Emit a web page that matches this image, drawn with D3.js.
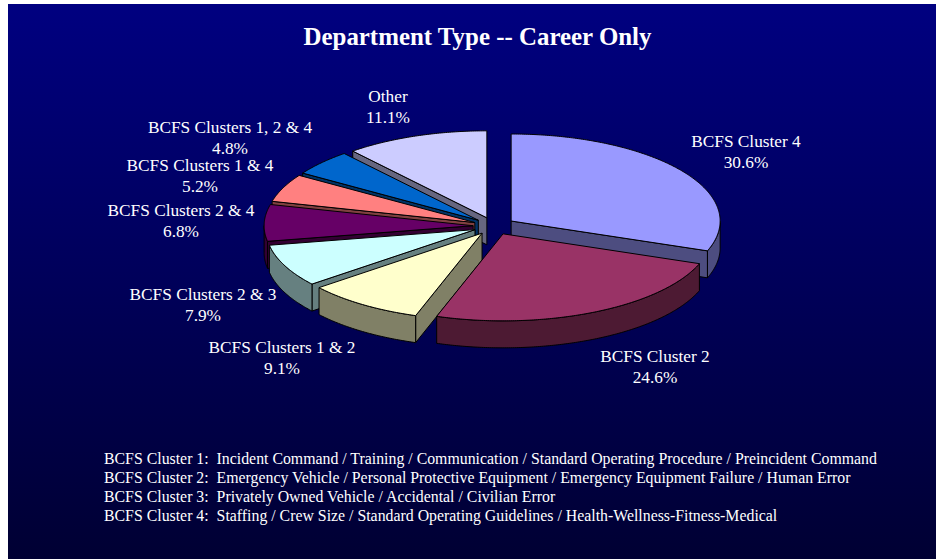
<!DOCTYPE html>
<html><head><meta charset="utf-8">
<script src="https://cdn.jsdelivr.net/npm/d3@7"></script>
<style>html,body{margin:0;padding:0;background:#fff}svg{display:block}text{font-family:"Liberation Serif","Times New Roman",serif;fill:#fff}</style>
</head><body><div id="c"></div>
<script>
const title = "Department Type -- Career Only";
const categories = ["BCFS Cluster 4","BCFS Cluster 2","BCFS Clusters 1 & 2","BCFS Clusters 2 & 3","BCFS Clusters 2 & 4","BCFS Clusters 1 & 4","BCFS Clusters 1, 2 & 4","Other"];
const values = [30.6,24.6,9.1,7.9,6.8,5.2,4.8,11.1];
const topColors = ["#9999FF","#993366","#FFFFCC","#CCFFFF","#660066","#FF8080","#0066CC","#CCCCFF"];
const sideColors = ["#4D4D80","#4D1A33","#808066","#668080","#330033","#804040","#003366","#666680"];
const labelCenters = [[746,151.5],[655,366.5],[282,357.5],[203,304.5],[181,220.5],[200,175.5],[230,137.5],[388,106.5]];
const notes = [
 "BCFS Cluster 1:  Incident Command / Training / Communication / Standard Operating Procedure / Preincident Command",
 "BCFS Cluster 2:  Emergency Vehicle / Personal Protective Equipment / Emergency Equipment Failure / Human Error",
 "BCFS Cluster 3:  Privately Owned Vehicle / Accidental / Civilian Error",
 "BCFS Cluster 4:  Staffing / Crew Size / Standard Operating Guidelines / Health-Wellness-Fitness-Medical"];

const W=937,H=559,cx=494,cy=226,rx=209,ry=87,depth=27,explode=0.1;
const svg=d3.select("#c").append("svg").attr("width",W).attr("height",H);
const grad=svg.append("defs").append("linearGradient").attr("id","bg").attr("x1",0).attr("y1",0).attr("x2",0).attr("y2",1);
grad.append("stop").attr("offset",0).attr("stop-color","#000080");
grad.append("stop").attr("offset",1).attr("stop-color","#000033");
svg.append("rect").attr("x",8).attr("y",4).attr("width",928).attr("height",555).attr("fill","url(#bg)");

svg.append("text").attr("x",477.5).attr("y",44.5).attr("text-anchor","middle").attr("font-size",24.9).attr("font-weight","bold").text(title);

const arcs=d3.pie().sort(null).value(d=>d)(values);
const line=d3.line();
const slices=arcs.map((a,i)=>{
  const m=(a.startAngle+a.endAngle)/2;
  return {i,s:a.startAngle,e:a.endAngle,ax:cx+explode*rx*Math.sin(m),ay:cy-explode*ry*Math.cos(m)};
}).sort((p,q)=>p.ay-q.ay);

function pt(d,t,z=0){return [d.ax+rx*Math.sin(t),d.ay-ry*Math.cos(t)+z];}
function rim(d,a,b,z=0){const n=Math.max(2,Math.ceil(Math.abs(b-a)/0.01));return d3.range(n+1).map(k=>pt(d,a+(b-a)*k/n,z));}
const g=svg.append("g").attr("stroke","#000").attr("stroke-width",1).attr("stroke-linejoin","round");
slices.forEach(d=>{
  const c=topColors[d.i], side=sideColors[d.i], apex=[d.ax,d.ay], apexB=[d.ax,d.ay+depth];
  if(Math.sin(d.s)<-1e-6){const p=pt(d,d.s);g.append("path").attr("fill",side).attr("d",line([apex,p,[p[0],p[1]+depth],apexB])+"Z");}
  if(Math.sin(d.e)>1e-6){const p=pt(d,d.e);g.append("path").attr("fill",side).attr("d",line([apex,p,[p[0],p[1]+depth],apexB])+"Z");}
  const a=Math.max(d.s,Math.PI/2), b=Math.min(d.e,3*Math.PI/2);
  if(b>a){g.append("path").attr("fill",side).attr("d",line([...rim(d,a,b),...rim(d,b,a,depth)])+"Z");}
  g.append("path").attr("fill",c).attr("d",line([apex,...rim(d,d.s,d.e)])+"Z");
});

const lab=svg.append("g").attr("font-size",17.3).attr("text-anchor","middle");
categories.forEach((n,i)=>{
  const [x,y]=labelCenters[i];
  lab.append("text").attr("x",x).attr("y",y-4.5).text(n);
  lab.append("text").attr("x",x).attr("y",y+16.5).text(values[i].toFixed(1)+"%");
});
const nt=svg.append("g").attr("font-size",15.83);
notes.forEach((n,i)=>{nt.append("text").attr("x",104).attr("y",463.5+19.3*i).attr("xml:space","preserve").style("white-space","pre").text(n);});
</script></body></html>
